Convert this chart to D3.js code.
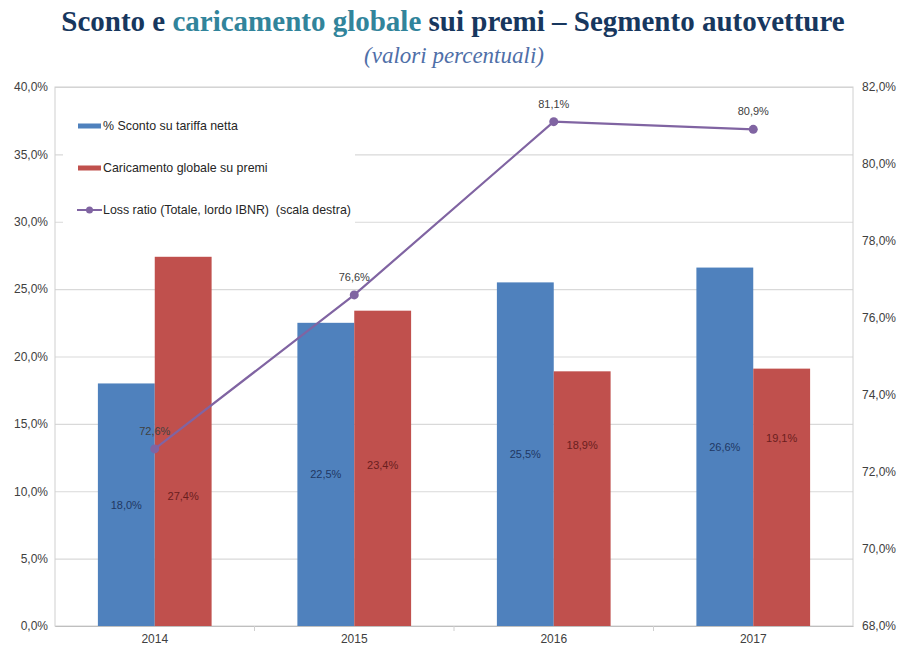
<!DOCTYPE html>
<html>
<head>
<meta charset="utf-8">
<script src="https://cdn.jsdelivr.net/npm/d3@7"></script>
<style>
  html, body { margin: 0; padding: 0; background: #fff; }
  svg { display: block; }
</style>
</head>
<body>
<svg id="chart" width="904" height="646"></svg>
<script>
// Data
const years = ["2014", "2015", "2016", "2017"];
const sconto = [18.0, 22.5, 25.5, 26.6];          // % Sconto su tariffa netta
const caricamento = [27.4, 23.4, 18.9, 19.1];     // Caricamento globale su premi
const lossRatio = [72.6, 76.6, 81.1, 80.9];       // Loss ratio (scala destra)
const leftTicks = [0, 5, 10, 15, 20, 25, 30, 35, 40];
const rightTicks = [68, 70, 72, 74, 76, 78, 80, 82];
const seriesNames = ["% Sconto su tariffa netta", "Caricamento globale su premi", "Loss ratio (Totale, lordo IBNR)  (scala destra)"];

const blue = "#4F81BD", red = "#C0504D", purple = "#8064A2";
const fmt = v => v.toFixed(1).replace(".", ",") + "%";

const svg = d3.select("#chart");
const plot = { left: 55, right: 853, top: 87, bottom: 626 };

// Title
const title = svg.append("text")
  .attr("x", 453).attr("y", 31)
  .attr("text-anchor", "middle")
  .style("font-family", "'Liberation Serif', 'DejaVu Serif', serif")
  .style("font-weight", "bold")
  .style("font-size", "29px")
  .attr("fill", "#17375E");
title.append("tspan").text("Sconto e ");
title.append("tspan").attr("fill", "#31849B").text("caricamento globale");
title.append("tspan").text(" sui premi \u2013 Segmento autovetture");

svg.append("text")
  .attr("x", 454).attr("y", 63)
  .attr("text-anchor", "middle")
  .style("font-family", "'Liberation Serif', 'DejaVu Serif', serif")
  .style("font-style", "italic")
  .style("font-size", "23px")
  .attr("fill", "#4F6FA8")
  .text("(valori percentuali)");

// Scales
const x0 = d3.scaleBand().domain(years).range([plot.left, plot.right]).padding(0);
const yL = d3.scaleLinear().domain([0, 40]).range([plot.bottom, plot.top]);
const yR = d3.scaleLinear().domain([68, 82]).range([plot.bottom, plot.top]);
const groupW = x0.bandwidth() * 0.57;
const x1 = d3.scaleBand().domain([0, 1]).range([0, groupW]).padding(0);
const cx = d => x0(d) + x0.bandwidth() / 2;

// Gridlines
const gridG = svg.append("g").attr("transform", `translate(${plot.left},0)`)
  .call(d3.axisLeft(yL).tickValues(leftTicks).tickSize(-(plot.right - plot.left)).tickFormat(""));
gridG.select(".domain").remove();
gridG.selectAll(".tick line").attr("stroke", "#d9d9d9").attr("stroke-width", 1.2);

// Plot frame
svg.append("rect")
  .attr("x", plot.left).attr("y", plot.top)
  .attr("width", plot.right - plot.left).attr("height", plot.bottom - plot.top)
  .attr("fill", "none").attr("stroke", "#d0d0d0").attr("stroke-width", 1);

// Left axis labels
const axL = svg.append("g").attr("transform", `translate(${plot.left},0)`)
  .call(d3.axisLeft(yL).tickValues(leftTicks).tickSize(0).tickPadding(7).tickFormat(fmt));
axL.select(".domain").remove();
axL.selectAll("text").style("font-family", "'Liberation Sans', Arial, sans-serif")
  .style("font-size", "12px").attr("fill", "#404040");

// Right axis labels
const axR = svg.append("g").attr("transform", `translate(${plot.right},0)`)
  .call(d3.axisRight(yR).tickValues(rightTicks).tickSize(0).tickPadding(9).tickFormat(fmt));
axR.select(".domain").remove();
axR.selectAll("text").style("font-family", "'Liberation Sans', Arial, sans-serif")
  .style("font-size", "12px").attr("fill", "#404040");

// Bottom axis
const axB = svg.append("g").attr("transform", `translate(0,${plot.bottom})`)
  .call(d3.axisBottom(x0).tickSize(0).tickPadding(8));
axB.select(".domain").attr("stroke", "#bfbfbf");
axB.selectAll("text").style("font-family", "'Liberation Sans', Arial, sans-serif")
  .style("font-size", "12px").attr("fill", "#404040");
// category separators
svg.append("g").selectAll("line").data(years.slice(1)).join("line")
  .attr("x1", d => x0(d)).attr("x2", d => x0(d))
  .attr("y1", plot.bottom).attr("y2", plot.bottom + 5)
  .attr("stroke", "#d0d0d0");

// Legend box (white, covers gridlines)
svg.append("rect").attr("x", 63).attr("y", 92).attr("width", 292).attr("height", 138).attr("fill", "#fff");

// Bars
const groups = svg.append("g").selectAll("g").data(years).join("g")
  .attr("transform", d => `translate(${cx(d) - groupW / 2},0)`);
groups.append("rect")
  .attr("x", x1(0)).attr("width", x1.bandwidth())
  .attr("y", (d, i) => yL(sconto[i])).attr("height", (d, i) => yL(0) - yL(sconto[i]))
  .attr("fill", blue);
groups.append("rect")
  .attr("x", x1(1)).attr("width", x1.bandwidth())
  .attr("y", (d, i) => yL(caricamento[i])).attr("height", (d, i) => yL(0) - yL(caricamento[i]))
  .attr("fill", red);

// Bar value labels
const labFont = "'Liberation Sans', Arial, sans-serif";
groups.append("text")
  .attr("x", x1(0) + x1.bandwidth() / 2)
  .attr("y", (d, i) => (yL(sconto[i]) + yL(0)) / 2 + 4)
  .attr("text-anchor", "middle")
  .style("font-family", labFont).style("font-size", "11px")
  .attr("fill", "#1F3864")
  .text((d, i) => fmt(sconto[i]));
groups.append("text")
  .attr("x", x1(1) + x1.bandwidth() / 2)
  .attr("y", (d, i) => (yL(sconto[i]) + yL(0)) / 2 - 5)
  .attr("text-anchor", "middle")
  .style("font-family", labFont).style("font-size", "11px")
  .attr("fill", "#6B1E1E")
  .text((d, i) => fmt(caricamento[i]));

// Loss ratio line
const line = d3.line().x((d, i) => cx(years[i])).y(d => yR(d));
svg.append("path").datum(lossRatio)
  .attr("d", line).attr("fill", "none").attr("stroke", purple).attr("stroke-width", 2.2);
svg.append("g").selectAll("circle").data(lossRatio).join("circle")
  .attr("cx", (d, i) => cx(years[i])).attr("cy", d => yR(d)).attr("r", 4.5)
  .attr("fill", purple);
svg.append("g").selectAll("text").data(lossRatio).join("text")
  .attr("x", (d, i) => cx(years[i])).attr("y", d => yR(d) - 14)
  .attr("text-anchor", "middle")
  .style("font-family", labFont).style("font-size", "11px")
  .attr("fill", "#404040")
  .text(d => fmt(d));

// Legend
const legend = svg.append("g");
const legY = [126, 168, 210];
[blue, red].forEach((c, i) => {
  legend.append("rect").attr("x", 78).attr("y", legY[i] - 2.5).attr("width", 23).attr("height", 5).attr("fill", c);
});
legend.append("line").attr("x1", 77).attr("x2", 102).attr("y1", legY[2]).attr("y2", legY[2])
  .attr("stroke", purple).attr("stroke-width", 2);
legend.append("circle").attr("cx", 89.5).attr("cy", legY[2]).attr("r", 3.5).attr("fill", purple);
legend.selectAll("text").data(seriesNames).join("text")
  .attr("x", 103).attr("y", (d, i) => legY[i] + 4)
  .style("font-family", labFont).style("font-size", "12.4px")
  .style("white-space", "pre")
  .attr("fill", "#262626")
  .text(d => d);
</script>
</body>
</html>
